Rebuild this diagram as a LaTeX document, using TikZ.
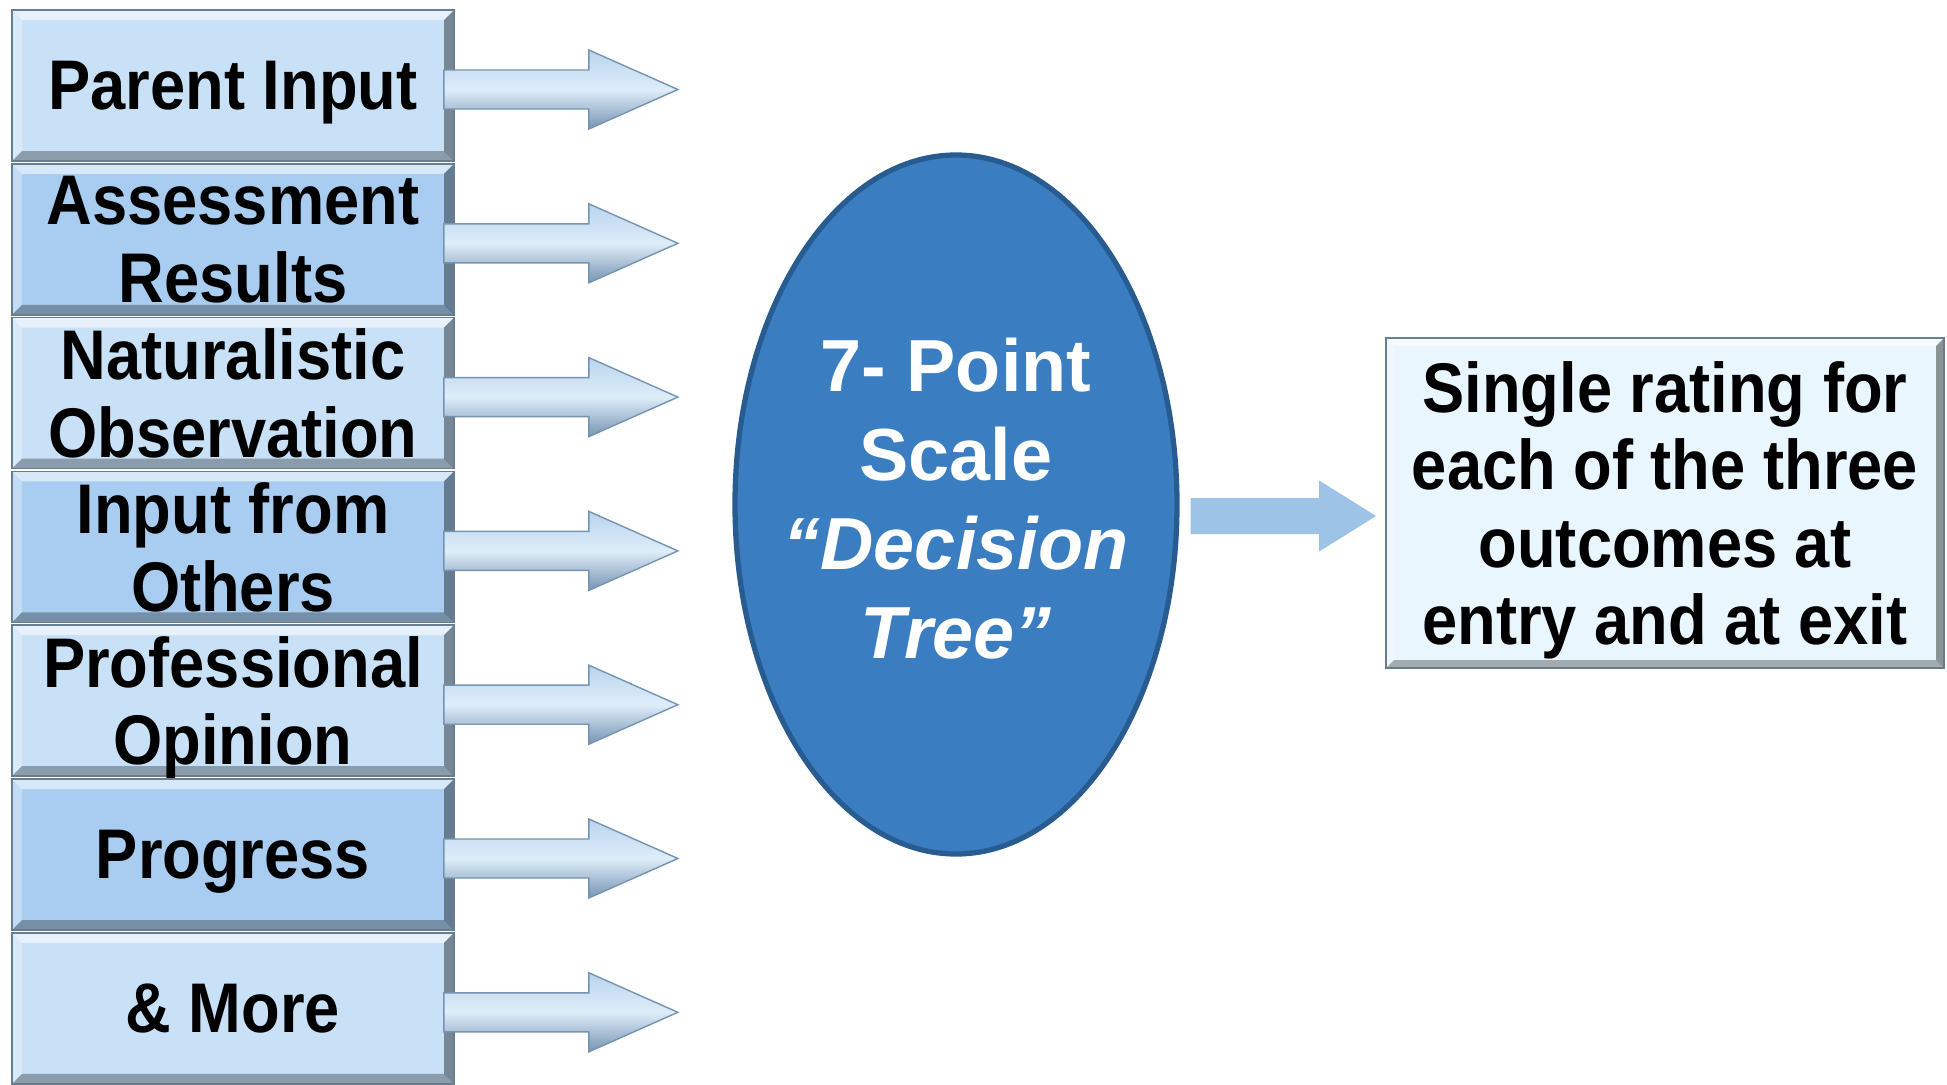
\documentclass[tikz,border=0pt]{standalone}
\usepackage{fontspec}
\setmainfont{Liberation Sans}
\newfontfamily\narrowfont[FakeStretch=0.9]{Liberation Sans}
\usetikzlibrary{positioning,calc,shapes.geometric}
\definecolor{boxlight}{RGB}{200,225,247}
\definecolor{boxdark}{RGB}{168,205,240}
\definecolor{boxedge}{RGB}{105,125,145}
\definecolor{arrtop}{RGB}{185,212,236}
\definecolor{arrmid}{RGB}{222,237,249}
\definecolor{arrbot}{RGB}{118,148,178}
\definecolor{ellblue}{RGB}{58,126,193}
\definecolor{ellrim}{RGB}{40,92,145}
\definecolor{outfill}{RGB}{234,246,253}
\definecolor{outarrow}{RGB}{157,195,230}
\tikzset{
	bevel/.style={path picture={
		\coordinate (nw) at (path picture bounding box.north west);
		\coordinate (ne) at (path picture bounding box.north east);
		\coordinate (sw) at (path picture bounding box.south west);
		\coordinate (se) at (path picture bounding box.south east);
		\fill[white,opacity=.55] (nw) -- (ne) -- ($(ne)+(-#1,-#1)$) -- ($(nw)+(#1,-#1)$) -- cycle;
		\fill[white,opacity=.3] (nw) -- (sw) -- ($(sw)+(#1,#1)$) -- ($(nw)+(#1,-#1)$) -- cycle;
		\fill[black,opacity=.3] (sw) -- (se) -- ($(se)+(-#1,#1)$) -- ($(sw)+(#1,#1)$) -- cycle;
		\fill[black,opacity=.4] (ne) -- (se) -- ($(se)+(-#1,#1)$) -- ($(ne)+(-#1,-#1)$) -- cycle;
	}},
	inbox/.style={draw=boxedge,line width=0.5pt,minimum width=4.42cm,minimum height=1.51cm,inner sep=0pt,text depth=-0.2cm,
		align=center,bevel=0.1cm,font=\narrowfont\bfseries\fontsize{20}{22}\selectfont},
	outbox/.style={draw=boxedge,line width=0.5pt,fill=outfill,minimum width=5.58cm,minimum height=3.30cm,inner sep=0pt,
		text depth=0pt,align=center,bevel=0.08cm,font=\narrowfont\bfseries\fontsize{20}{22}\selectfont},
	scale node/.style={ellipse,fill=ellblue,draw=ellrim,line width=1.5pt,minimum width=4.42cm,minimum height=6.99cm,
		inner xsep=-0.3cm,inner ysep=0pt,text depth=0.12cm,align=center,text=white,font=\bfseries\fontsize{21}{25.3}\selectfont},
	blockarrow/.style n args={3}{to path={
		let \p1=(\tikztostart), \p2=(\tikztotarget) in
		(\x1,\y1+#1) -- (\x2-#3,\y1+#1) -- (\x2-#3,\y1+#2) -- (\x2,\y1) -- (\x2-#3,\y1-#2) -- (\x2-#3,\y1-#1) -- (\x1,\y1-#1) -- cycle}},
	inarrow/.style={blockarrow={0.195cm}{0.395cm}{0.89cm},top color=arrtop,bottom color=arrbot,middle color=arrmid,
		draw=arrbot,line width=0.4pt},
	outarr/.style={blockarrow={0.18cm}{0.355cm}{0.57cm},fill=outarrow},
}
\begin{document}
\begin{tikzpicture}
	\useasboundingbox (0,0) rectangle (19.47,10.84);
	% cac nguon thong tin
	\foreach \i/\txt/\col in {1/{Parent Input}/boxlight,2/{Assessment\\Results}/boxdark,3/{Naturalistic\\Observation}/boxlight,
		4/{Input from\\Others}/boxdark,5/{Professional\\Opinion}/boxlight,6/{Progress}/boxdark,7/{\& More}/boxlight}
	\node[inbox,fill=\col] (b\i) at (2.33,{9.985-1.538*(\i-1)}) {\txt};
	\foreach \i in {1,...,7}{
		\coordinate (t\i) at ([xshift=2.23cm,yshift=-0.04cm]b\i.east);
		\draw[inarrow] ([xshift=-0.11cm,yshift=-0.04cm]b\i.east) to (t\i);
	}
	% thang diem
	\node[scale node] (ell) at (9.56,5.795) {7- Point\\Scale\\{\itshape “Decision}\\{\itshape Tree”}};
	\node[outbox] (out) at (16.65,5.81) {Single rating for\\each of the three\\outcomes at\\entry and at exit};
	\coordinate (rt) at ([xshift=-0.09cm,yshift=-0.12cm]out.west);
	\fill[outarr] ([xshift=0.11cm,yshift=-0.115cm]ell.east) to (rt);
\end{tikzpicture}
\end{document}
